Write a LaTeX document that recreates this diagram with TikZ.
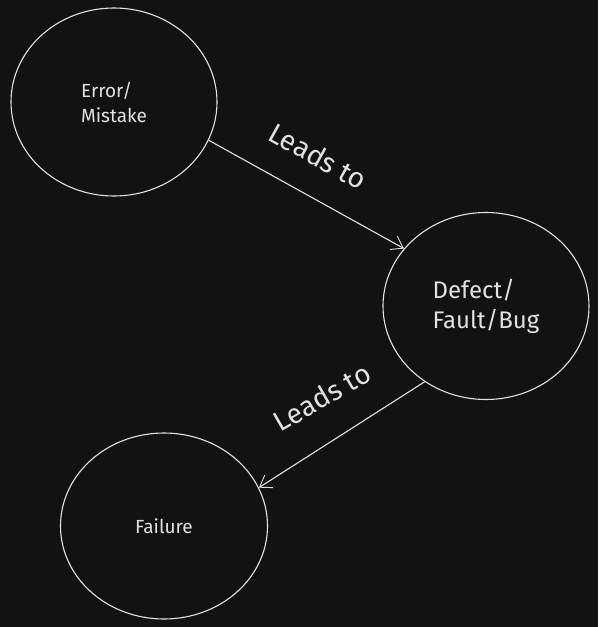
\documentclass[tikz,border=0pt]{standalone}
\usepackage{fontspec}
\setmainfont{Fira Sans}
\usetikzlibrary{arrows.meta,shapes.geometric}
\definecolor{bgdark}{HTML}{121212}
\definecolor{chalk}{HTML}{E2E2E2}

\begin{document}
\begin{tikzpicture}[x=1pt,y=-1pt,line width=1.1pt,
  bubble/.style={ellipse,draw=chalk,text=chalk,inner sep=0pt,align=left},
  lead/.style={draw=chalk,-{Straight Barb[length=11pt,width=15pt,line width=0.9pt]}},
  leadtext/.style={text=chalk,font=\fontsize{28}{32}\selectfont}]
  \fill[bgdark] (0,0) rectangle (598,627);
  \useasboundingbox (0,0) rectangle (598,627);

  \node[bubble,minimum width=206pt,minimum height=188pt,font=\fontsize{19}{25}\selectfont]
        (err)  at (114,102) {Error/\\Mistake};
  \node[bubble,minimum width=206pt,minimum height=187pt,font=\fontsize{24}{30}\selectfont]
        (dft)  at (486,306) {Defect/\\Fault/Bug};
  \node[bubble,minimum width=207pt,minimum height=186pt,font=\fontsize{19}{22}\selectfont]
        (fail) at (164,526) {Failure};

  \draw[lead] (err.-22) -- (dft.145);
  \draw[lead] (dft.-129) -- (fail.22);

  \node[leadtext,rotate=-29] (lt1) at (318,156) {Leads to};
  \node[leadtext,rotate=30]  (lt2) at (322,397) {Leads to};
\end{tikzpicture}
\end{document}
